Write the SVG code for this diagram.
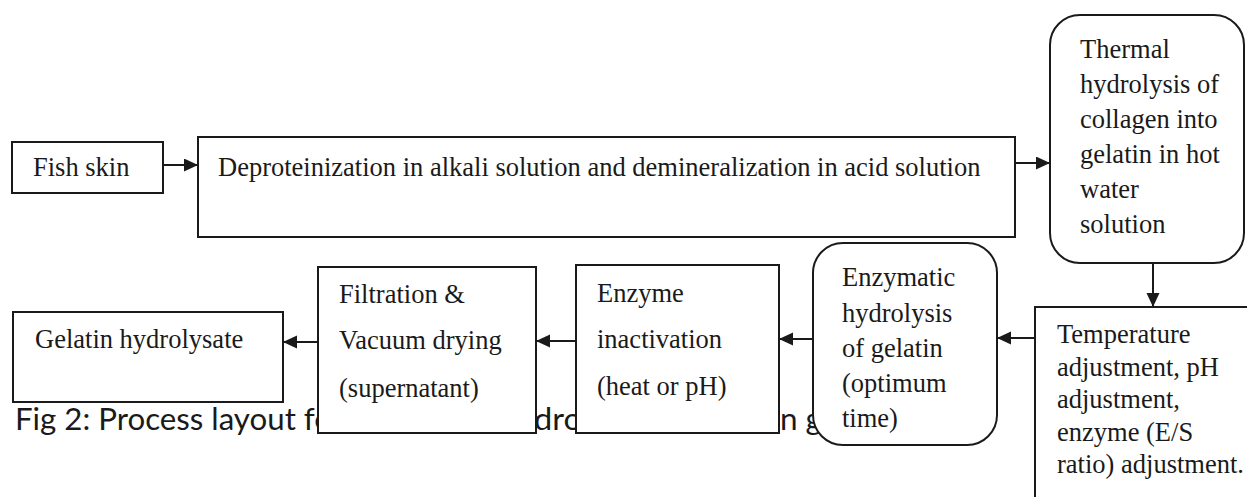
<svg xmlns="http://www.w3.org/2000/svg" width="1247" height="497" viewBox="0 0 1247 497">
<style>
.box{fill:#fff;stroke:#1a1a1a;stroke-width:2}
.t{font-family:"Liberation Serif","Times New Roman",serif;font-size:26.5px;fill:#1a1a1a}
.cap{font-family:Lato,"Open Sans",sans-serif;font-size:31px;fill:#1a1a1a}
.ln{stroke:#1a1a1a;stroke-width:2;fill:none}
</style>
<defs>
<marker id="ah" markerUnits="userSpaceOnUse" markerWidth="16" markerHeight="14" refX="14" refY="6.5" orient="auto">
<path d="M0,0 L14,6.5 L0,13 Z" fill="#1a1a1a"/>
</marker>
</defs>
<rect width="1247" height="497" fill="#fff"/>
<g id="caption">
<text class="cap" x="15" y="430" textLength="317" lengthAdjust="spacingAndGlyphs">Fig 2: Process layout fo</text>
<text class="cap" x="534" y="430" textLength="48" lengthAdjust="spacingAndGlyphs">dro</text>
<text class="cap" x="780" y="430" textLength="42" lengthAdjust="spacingAndGlyphs">n g</text>
</g>
<g id="connectors">
<line class="ln" x1="163" y1="165" x2="198" y2="165" marker-end="url(#ah)"/>
<line class="ln" x1="1015" y1="163" x2="1050" y2="163" marker-end="url(#ah)"/>
<line class="ln" x1="1153" y1="263" x2="1153" y2="307" marker-end="url(#ah)"/>
<line class="ln" x1="1035" y1="338" x2="997" y2="338" marker-end="url(#ah)"/>
<line class="ln" x1="813" y1="339" x2="779" y2="339" marker-end="url(#ah)"/>
<line class="ln" x1="576" y1="341" x2="536" y2="341" marker-end="url(#ah)"/>
<line class="ln" x1="318" y1="342" x2="283" y2="342" marker-end="url(#ah)"/>
</g>
<g id="fish-skin">
<rect class="box" x="12" y="142" width="151" height="51"/>
<text class="t" x="33" y="176">Fish skin</text>
</g>
<g id="deproteinization">
<rect class="box" x="198" y="137" width="817" height="100"/>
<text class="t" x="218" y="176">Deproteinization in alkali solution and demineralization in acid solution</text>
</g>
<g id="thermal-hydrolysis">
<rect class="box" x="1050" y="15" width="194" height="248" rx="30" ry="30"/>
<text class="t" x="1080" y="58">Thermal</text>
<text class="t" x="1080" y="93">hydrolysis of</text>
<text class="t" x="1080" y="128">collagen into</text>
<text class="t" x="1080" y="163">gelatin in hot</text>
<text class="t" x="1080" y="198">water</text>
<text class="t" x="1080" y="233">solution</text>
</g>
<g id="adjustment">
<rect class="box" x="1035" y="307" width="240" height="220"/>
<text class="t" x="1057" y="343">Temperature</text>
<text class="t" x="1057" y="375.5">adjustment, pH</text>
<text class="t" x="1057" y="408">adjustment,</text>
<text class="t" x="1057" y="440.5">enzyme (E/S</text>
<text class="t" x="1057" y="473">ratio) adjustment.</text>
</g>
<g id="enzymatic-hydrolysis">
<rect class="box" x="813" y="243" width="184" height="202" rx="30" ry="30"/>
<text class="t" x="842" y="286">Enzymatic</text>
<text class="t" x="842" y="322">hydrolysis</text>
<text class="t" x="842" y="357">of gelatin</text>
<text class="t" x="842" y="392">(optimum</text>
<text class="t" x="842" y="427">time)</text>
</g>
<g id="enzyme-inactivation">
<rect class="box" x="576" y="265" width="203" height="168"/>
<text class="t" x="597" y="302">Enzyme</text>
<text class="t" x="597" y="348">inactivation</text>
<text class="t" x="597" y="395">(heat or pH)</text>
</g>
<g id="filtration">
<rect class="box" x="318" y="267" width="218" height="166"/>
<text class="t" x="339" y="303">Filtration &amp;</text>
<text class="t" x="339" y="349">Vacuum drying</text>
<text class="t" x="339" y="397">(supernatant)</text>
</g>
<g id="gelatin-hydrolysate">
<rect class="box" x="13" y="312" width="270" height="90"/>
<text class="t" x="35" y="348">Gelatin hydrolysate</text>
</g>
</svg>
